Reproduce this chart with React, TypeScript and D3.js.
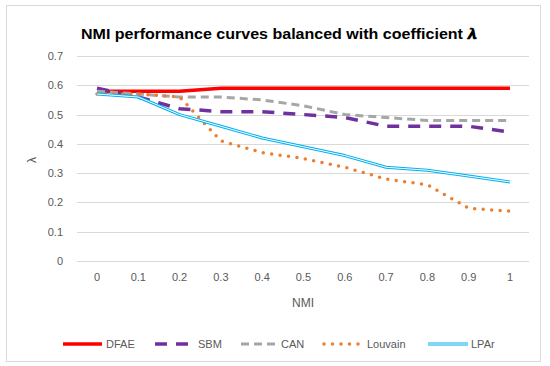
import React from 'react'
import * as d3 from 'd3'

const xLabels = ['0', '0.1', '0.2', '0.3', '0.4', '0.5', '0.6', '0.7', '0.8', '0.9', '1']
const yTicks = [0, 0.1, 0.2, 0.3, 0.4, 0.5, 0.6, 0.7]

const dfae = [0.58, 0.58, 0.58, 0.59, 0.59, 0.59, 0.59, 0.59, 0.59, 0.59, 0.59]
const sbm = [0.59, 0.56, 0.52, 0.51, 0.51, 0.5, 0.49, 0.46, 0.46, 0.46, 0.44]
const can = [0.58, 0.57, 0.56, 0.56, 0.55, 0.53, 0.5, 0.49, 0.48, 0.48, 0.48]
const louvain = [0.57, 0.57, 0.56, 0.41, 0.37, 0.35, 0.32, 0.28, 0.26, 0.18, 0.17]
const lpar = [0.57, 0.56, 0.5, 0.46, 0.42, 0.39, 0.36, 0.32, 0.31, 0.29, 0.27]

const series = [
  { name: 'DFAE', values: dfae, color: '#ff0000', width: 3.5, dash: '' },
  { name: 'SBM', values: sbm, color: '#7030a0', width: 3.5, dash: '12,9' },
  { name: 'CAN', values: can, color: '#a6a6a6', width: 3, dash: '8,5' },
  { name: 'Louvain', values: louvain, color: '#ed7d31', width: 3.5, dash: '0,8.5' },
  { name: 'LPAr', values: lpar, color: '#00b0f0', width: 3, dash: '', double: true },
]

const x = d3.scalePoint<string>().domain(xLabels).range([97, 510])
const y = d3.scaleLinear().domain([0, 0.7]).range([261, 56])

const line = d3
  .line<number>()
  .x((d, i) => x(xLabels[i]) as number)
  .y((d) => y(d))

const font = '"Liberation Sans", Arial, sans-serif'

// legend slots: line start, line end, text x
const legendX = [
  [63, 102, 106],
  [155, 193, 198],
  [241, 277, 281],
  [324, 364, 367],
  [428, 468, 471],
]

const App = () => {
  return (
    <svg width={550} height={366} style={{ position: 'absolute', left: 0, top: 0 }} fontFamily={font}>
      <rect x={0} y={0} width={550} height={366} fill="#fff" />
      <rect x={6.5} y={5.5} width={534} height={356} fill="#fff" stroke="#d9d9d9" />
      <text x={279} y={39} textAnchor="middle" fontSize={15} fontWeight="bold" fill="#000" textLength={396} lengthAdjust="spacingAndGlyphs">
        NMI performance curves balanced with coefficient 𝝀
      </text>

      {yTicks.map((t) => (
        <g key={t}>
          <line x1={77} x2={529} y1={Math.round(y(t)) + 0.5} y2={Math.round(y(t)) + 0.5} stroke="#d9d9d9" />
          <text x={63} y={y(t) + 4} textAnchor="end" fontSize={11} fill="#595959">
            {t}
          </text>
        </g>
      ))}

      {xLabels.map((l) => (
        <text key={l} x={x(l)} y={281} textAnchor="middle" fontSize={11} fill="#595959">
          {l}
        </text>
      ))}

      <text x={303} y={307} textAnchor="middle" fontSize={12} fill="#595959">
        NMI
      </text>
      <text transform="translate(36,160) rotate(-90)" textAnchor="middle" fontSize={12} fill="#595959">
        λ
      </text>

      {series.map((s) => (
        <g key={s.name}>
          <path
            d={line(s.values) as string}
            fill="none"
            stroke={s.color}
            strokeWidth={s.width}
            strokeDasharray={s.dash || undefined}
            strokeLinecap={s.name === 'Louvain' ? 'round' : 'butt'}
            strokeLinejoin="round"
          />
          {s.double && (
            <path d={line(s.values) as string} fill="none" stroke="#fff" strokeWidth={1} strokeLinejoin="round" />
          )}
        </g>
      ))}

      {series.map((s, i) => {
        const [a, b, tx] = legendX[i]
        return (
          <g key={s.name}>
            <line
              x1={a}
              x2={b}
              y1={344}
              y2={344}
              stroke={s.color}
              strokeWidth={s.width}
              strokeDasharray={s.dash || undefined}
              strokeLinecap={s.name === 'Louvain' ? 'round' : 'butt'}
            />
            {s.double && <line x1={a} x2={b} y1={344} y2={344} stroke="#fff" strokeWidth={1} />}
            <text x={tx} y={348} fontSize={11} fill="#595959">
              {s.name}
            </text>
          </g>
        )
      })}
    </svg>
  )
}

export default App
